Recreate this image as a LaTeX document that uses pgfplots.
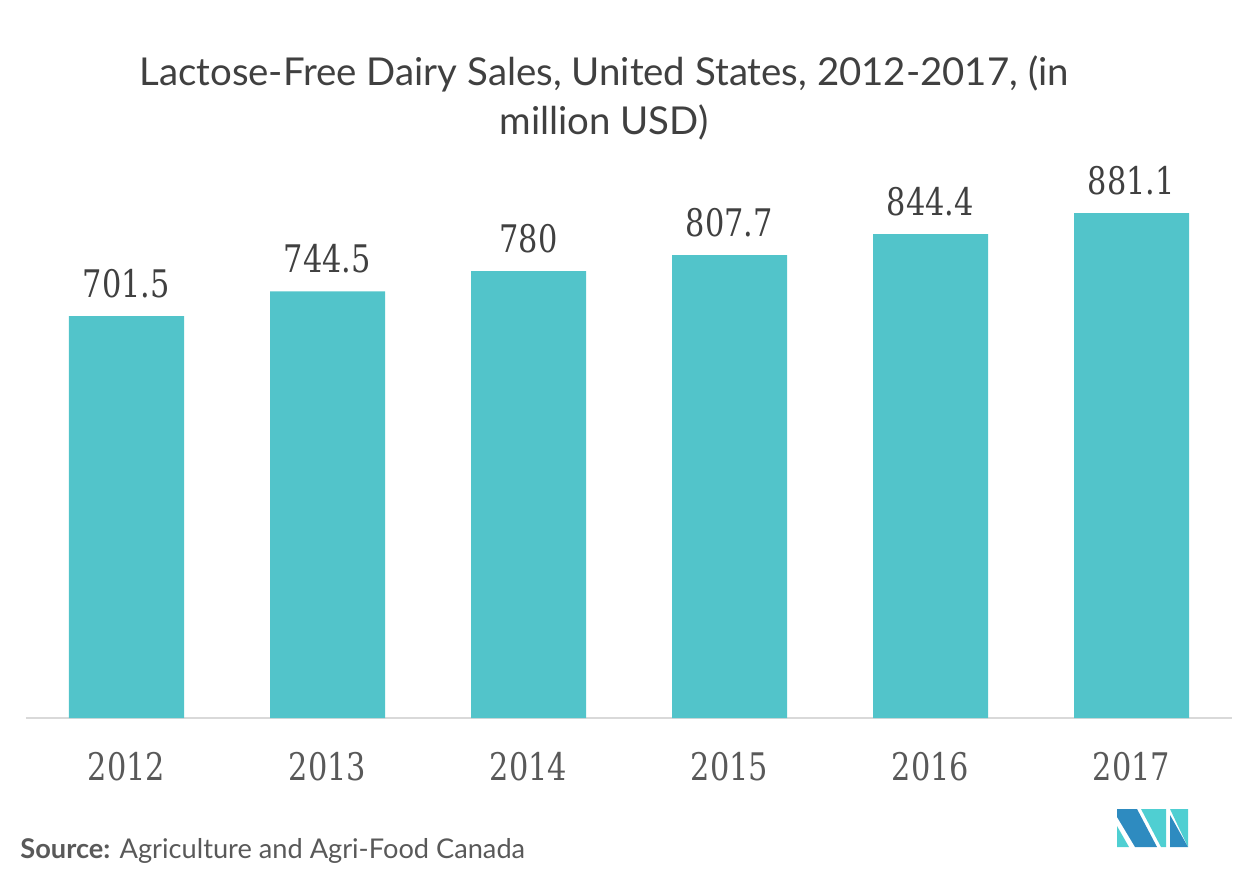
\documentclass[border=0pt]{standalone}
\usepackage{pgfplots}
\pgfplotsset{compat=1.18}
\usepackage{fontspec}
\setmainfont{Lato}
\newfontfamily\numfont[FakeStretch=0.8]{DejaVu Serif}
\definecolor{barcol}{HTML}{52C4CA}
\definecolor{titlecol}{HTML}{404040}
\definecolor{tickcol}{HTML}{595959}
\definecolor{basecol}{HTML}{D9D9D9}
\definecolor{logoblue}{HTML}{2E8BC0}
\definecolor{logocyan}{HTML}{4FCFD2}

\begin{document}
\begin{tikzpicture}
\path[use as bounding box] (0,0) rectangle (628pt,444.5pt);
\begin{axis}[
    at={(13pt,85.5pt)}, anchor=south west,
    scale only axis, width=603pt, height=286.5pt,
    xmin=-0.5, xmax=5.5, ymin=0, ymax=1000,
    axis x line=bottom, axis y line=none,
    axis line style={basecol, line width=1pt, -},
    xtick=data, xticklabels={2012,2013,2014,2015,2016,2017},
    major tick length=0pt,
    xticklabel style={font=\numfont\fontsize{19}{22}\selectfont, text=tickcol, anchor=base, yshift=-31pt},
    ybar, bar width=57.5pt,
    nodes near coords,
    nodes near coords style={font=\numfont\fontsize{19}{22}\selectfont, text=titlecol, anchor=base, yshift=9.5pt,
        /pgf/number format/.cd, fixed, precision=1, assume math mode=true},
    clip=false,
]
\addplot[fill=barcol, draw=none] coordinates {(0,701.5) (1,744.5) (2,780) (3,807.7) (4,844.4) (5,881.1)};
\end{axis}
\begin{scope}[shift={(0,444.5pt)}, x=0.5pt, y=-0.5pt]
  % base anchor of a two-line node sits on the last line
  \node[anchor=base, align=center, text=titlecol, font=\fontsize{19.2}{24.5}\selectfont] at (604,135)
    {Lactose-Free Dairy Sales, United States, 2012-2017, (in\\million USD)};
  \node[anchor=base west, inner sep=0pt, text=tickcol, font=\fontsize{13.6}{15}\selectfont] at (20,858)
    {\textbf{Source:} Agriculture and Agri-Food Canada};
  % logo
  \fill[logocyan] (1117,826) -- (1117,847) -- (1129,847) -- cycle;
  \fill[logoblue] (1117,809) -- (1137,809) -- (1157,847) -- (1135,847) -- (1117,817) -- cycle;
  \fill[logocyan] (1141,809) -- (1166,809) -- (1166,847) -- (1161,847) -- cycle;
  \fill[logocyan] (1170,809) -- (1188,809) -- (1188,847) -- cycle;
  \fill[logoblue] (1170,815) -- (1188,847) -- (1170,847) -- cycle;
\end{scope}
\end{tikzpicture}
\end{document}
